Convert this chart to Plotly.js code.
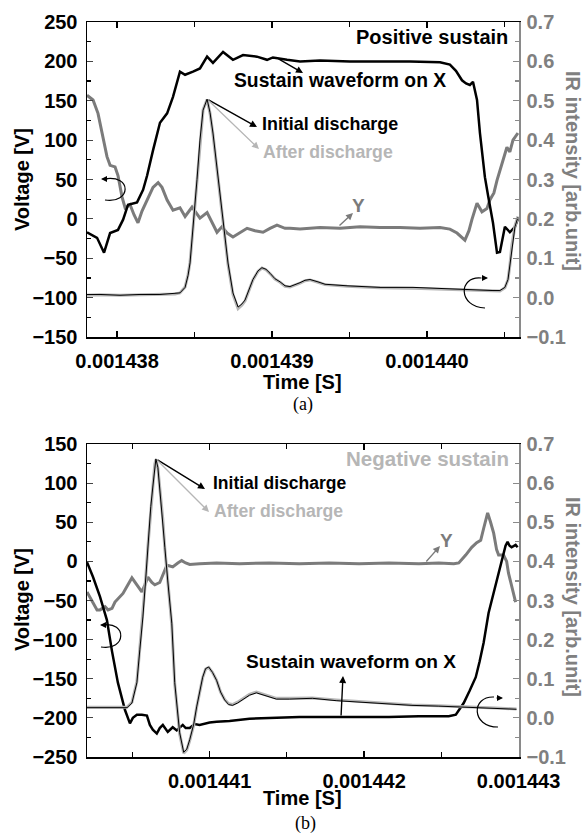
<!DOCTYPE html>
<html><head><meta charset="utf-8">
<script src="https://cdn.plot.ly/plotly-3.0.1.min.js"></script>
<style>html,body{margin:0;padding:0;background:#fff}#g{width:586px;height:835px}</style>
</head><body><div id="g"></div>
<script>
// ---------- Panel (a): positive sustain (time in microseconds) ----------
const a_x_t = [1437.806,1437.871,1437.916,1437.955,1438.006,1438.039,1438.071,1438.129,1438.168,1438.194,1438.232,1438.277,1438.323,1438.361,1438.406,1438.439,1438.490,1438.535,1438.581,1438.619,1438.684,1438.748,1438.813,1438.903,1438.968,1439.006,1439.097,1439.181,1439.310,1439.503,1439.697,1439.890,1440.084,1440.148,1440.187,1440.226,1440.252,1440.277,1440.297,1440.323,1440.342,1440.374,1440.394,1440.426,1440.452,1440.471,1440.503,1440.535,1440.568,1440.587];
const a_x_v = [-17,-24,-43,-18,-14,-1,18,21,37,55,87,122,134,155,187,183,187,191,206,198,212,202,208,206,202,205,202,200,201,200,200,200,199,196,188,176,172,170,174,151,109,53,30,-5,-43,-42,-10,-17,-10,0];

const a_y_t = [1437.806,1437.845,1437.877,1437.903,1437.935,1437.955,1437.987,1438.006,1438.019,1438.032,1438.052,1438.084,1438.110,1438.135,1438.161,1438.194,1438.232,1438.265,1438.290,1438.323,1438.361,1438.406,1438.439,1438.484,1438.510,1438.535,1438.581,1438.613,1438.645,1438.677,1438.710,1438.748,1438.794,1438.839,1438.890,1438.942,1438.987,1439.032,1439.084,1439.116,1439.181,1439.310,1439.439,1439.568,1439.697,1439.826,1439.955,1440.084,1440.148,1440.194,1440.245,1440.271,1440.290,1440.323,1440.355,1440.387,1440.406,1440.432,1440.452,1440.471,1440.497,1440.516,1440.535,1440.555,1440.587];
const a_y_v = [157,151,134,109,79,68,66,55,41,28,14,18,5,-5,10,24,40,46,40,24,11,14,3,15,8,1,8,-5,-17,-10,-18,-23,-17,-12,-15,-17,-12,-8,-12,-12,-13,-11,-12,-10,-11,-11,-12,-11,-13,-18,-27,-15,-1,20,9,13,24,33,49,62,80,91,85,100,109];

const a_ir_t = [1437.806,1437.890,1438.019,1438.148,1438.277,1438.374,1438.406,1438.439,1438.458,1438.471,1438.490,1438.516,1438.535,1438.555,1438.581,1438.600,1438.619,1438.652,1438.665,1438.684,1438.703,1438.716,1438.748,1438.781,1438.806,1438.826,1438.877,1438.910,1438.935,1438.961,1438.987,1439.019,1439.052,1439.084,1439.116,1439.148,1439.181,1439.213,1439.245,1439.297,1439.342,1439.484,1439.697,1439.910,1440.129,1440.277,1440.426,1440.471,1440.503,1440.523,1440.535,1440.548,1440.568,1440.587];
const a_init_ir = [0.008,0.008,0.006,0.008,0.008,0.010,0.012,0.026,0.056,0.088,0.172,0.300,0.400,0.476,0.504,0.470,0.418,0.306,0.260,0.198,0.130,0.088,0.012,-0.024,-0.016,-0.006,0.046,0.068,0.076,0.072,0.062,0.048,0.040,0.030,0.028,0.032,0.038,0.044,0.046,0.040,0.034,0.030,0.026,0.026,0.022,0.020,0.018,0.018,0.026,0.046,0.080,0.130,0.180,0.204];
const a_after_ir = [0.006,0.007,0.006,0.007,0.007,0.009,0.012,0.027,0.058,0.090,0.175,0.302,0.401,0.477,0.503,0.468,0.415,0.303,0.256,0.194,0.126,0.084,0.008,-0.028,-0.019,-0.008,0.045,0.067,0.075,0.071,0.061,0.047,0.039,0.029,0.027,0.031,0.037,0.043,0.045,0.039,0.033,0.029,0.025,0.024,0.021,0.019,0.017,0.017,0.025,0.046,0.082,0.133,0.182,0.206];

// ---------- Panel (b): negative sustain ----------
const b_x_t = [1440.206,1440.245,1440.290,1440.335,1440.368,1440.406,1440.452,1440.484,1440.503,1440.529,1440.561,1440.594,1440.613,1440.632,1440.658,1440.677,1440.697,1440.729,1440.761,1440.787,1440.826,1440.845,1440.871,1440.903,1440.935,1441.000,1441.045,1441.129,1441.258,1441.387,1441.581,1441.774,1441.968,1442.161,1442.355,1442.548,1442.594,1442.645,1442.684,1442.723,1442.748,1442.774,1442.806,1442.826,1442.858,1442.890,1442.916,1442.929,1442.942,1442.955,1442.981,1442.994];
const b_x_v = [-1,-20,-45,-75,-115,-155,-190,-207,-200,-196,-196,-197,-209,-215,-220,-213,-209,-218,-212,-216,-209,-213,-213,-208,-209,-206,-205,-204,-201,-200,-199,-199,-199,-199,-198,-198,-196,-181,-165,-148,-128,-104,-66,-50,-24,0,20,25,20,18,21,18];

const b_y_t = [1440.206,1440.245,1440.271,1440.290,1440.323,1440.342,1440.368,1440.387,1440.419,1440.439,1440.471,1440.497,1440.529,1440.548,1440.561,1440.581,1440.600,1440.626,1440.645,1440.677,1440.703,1440.723,1440.742,1440.761,1440.794,1440.819,1440.845,1440.871,1440.935,1441.045,1441.194,1441.387,1441.581,1441.774,1441.968,1442.161,1442.355,1442.484,1442.581,1442.613,1442.658,1442.697,1442.729,1442.755,1442.774,1442.800,1442.819,1442.839,1442.858,1442.871,1442.903,1442.923,1442.935,1442.955,1442.981];
const b_y_v = [-39,-53,-62,-62,-58,-62,-60,-52,-45,-41,-30,-21,-30,-36,-39,-30,-20,-27,-30,-27,-15,-5,-6,-7,-2,1,-2,-4,-3,-2,-3,-2,-3,-2,-3,-2,-3,-2,-3,-2,8,18,24,27,42,62,50,36,15,8,8,0,-15,-33,-52];

const b_ir_t = [1440.206,1440.355,1440.465,1440.497,1440.529,1440.548,1440.568,1440.587,1440.600,1440.619,1440.632,1440.645,1440.652,1440.665,1440.677,1440.697,1440.710,1440.729,1440.742,1440.755,1440.774,1440.794,1440.806,1440.832,1440.852,1440.871,1440.897,1440.916,1440.935,1440.955,1440.974,1440.994,1441.019,1441.045,1441.071,1441.097,1441.123,1441.148,1441.181,1441.213,1441.258,1441.303,1441.335,1441.368,1441.432,1441.516,1441.665,1441.819,1441.968,1442.097,1442.310,1442.484,1442.632,1442.852,1442.987];
const b_init_ir = [0.026,0.026,0.026,0.038,0.090,0.174,0.258,0.360,0.436,0.540,0.590,0.650,0.662,0.640,0.590,0.510,0.436,0.350,0.284,0.242,0.090,0.000,-0.038,-0.088,-0.080,-0.056,-0.016,0.028,0.070,0.104,0.126,0.130,0.116,0.096,0.066,0.046,0.034,0.032,0.038,0.046,0.058,0.064,0.060,0.056,0.048,0.048,0.050,0.044,0.040,0.038,0.032,0.030,0.028,0.024,0.022];
const b_after_ir = [0.027,0.027,0.027,0.040,0.093,0.178,0.262,0.362,0.437,0.539,0.589,0.648,0.660,0.638,0.588,0.507,0.432,0.346,0.280,0.238,0.087,-0.003,-0.041,-0.090,-0.082,-0.058,-0.018,0.027,0.069,0.103,0.125,0.129,0.116,0.096,0.066,0.047,0.036,0.034,0.040,0.048,0.060,0.066,0.062,0.058,0.050,0.050,0.051,0.046,0.042,0.039,0.033,0.031,0.028,0.025,0.023];

const xTicksA = [1438, 1439, 1440];
const xTicksB = [1441, 1442, 1443];

const us = a => a.map(v => v * 1e-6);
const fmt = a => a.map(v => (v * 1e-6).toFixed(6));

const BLACK = '#000000', GRAY = '#7b7b7b', LIGHT = '#b6b6b6';
const FF = 'Liberation Sans, Arial, sans-serif';

const traces = [
  {x: us(a_ir_t), y: a_after_ir, xaxis:'x', yaxis:'y2', mode:'lines', line:{color:LIGHT, width:3}},
  {x: us(a_ir_t), y: a_init_ir, xaxis:'x', yaxis:'y2', mode:'lines', line:{color:BLACK, width:1}},
  {x: us(a_y_t), y: a_y_v, xaxis:'x', yaxis:'y', mode:'lines', line:{color:GRAY, width:3}},
  {x: us(a_x_t), y: a_x_v, xaxis:'x', yaxis:'y', mode:'lines', line:{color:BLACK, width:2.5}},
  {x: us(b_ir_t), y: b_after_ir, xaxis:'x2', yaxis:'y4', mode:'lines', line:{color:LIGHT, width:3}},
  {x: us(b_ir_t), y: b_init_ir, xaxis:'x2', yaxis:'y4', mode:'lines', line:{color:BLACK, width:1}},
  {x: us(b_y_t), y: b_y_v, xaxis:'x2', yaxis:'y3', mode:'lines', line:{color:GRAY, width:3}},
  {x: us(b_x_t), y: b_x_v, xaxis:'x2', yaxis:'y3', mode:'lines', line:{color:BLACK, width:2.5}}
];

// pixel -> paper helper (plot area: x 87..519, y 22..757)
const PX = px => (px - 87) / 432;
const PY = py => (757 - py) / 735;

const tickFontK = {family:FF, size:20, color:BLACK, weight:'bold'};
const tickFontG = {family:FF, size:20, color:'#808080', weight:'bold'};

function xAxis(anchor, ticks, range) {
  return {anchor, domain:[0,1], range: us(range), tickmode:'array', tickvals: us(ticks), ticktext: fmt(ticks),
    showline:true, linecolor:BLACK, linewidth:1.5, mirror:'ticks', ticks:'inside', ticklen:6, tickwidth:1.2, tickcolor:BLACK,
    minor:{dtick:5e-7, ticks:'inside', ticklen:5, tickwidth:1.2, tickcolor:BLACK},
    showgrid:false, zeroline:false, tickfont:tickFontK, ticklabelstandoff:5};
}
function yLeft(domain, range, dtick) {
  return {domain, range, dtick, tick0:0, showline:true, linecolor:BLACK, linewidth:1.5, ticks:'inside', ticklen:6, tickwidth:1.2,
    minor:{dtick:dtick/2, ticks:'inside', ticklen:4, tickwidth:1.2, tickcolor:BLACK},
    showgrid:false, zeroline:false, tickfont:tickFontK, ticklabelstandoff:4};
}
function yRight(overlay, anchor) {
  return {overlaying:overlay, anchor, side:'right', range:[-0.1,0.7], dtick:0.1, tick0:0, tickformat:'.1f',
    showline:true, linecolor:'#8a8a8a', linewidth:1.5, ticks:'inside', ticklen:6, tickwidth:1.2, tickcolor:'#8a8a8a',
    minor:{dtick:0.05, ticks:'inside', ticklen:4, tickwidth:1.2, tickcolor:'#8a8a8a'},
    showgrid:false, zeroline:false, tickfont:tickFontG, ticklabelstandoff:2};
}

function txt(text, px, py, size, color, xanchor, extra) {
  return Object.assign({xref:'paper', yref:'paper', x:PX(px), y:PY(py), text, showarrow:false,
    xanchor: xanchor || 'center', yanchor:'middle', font:{family:FF, size, color, weight:'bold'}}, extra || {});
}
function arrow(tx, ty, hx, hy, color, w) {
  return {xref:'paper', yref:'paper', x:PX(hx), y:PY(hy), ax:tx-hx, ay:ty-hy, text:'', showarrow:true,
    arrowhead:2, arrowsize:1, arrowwidth:w || 1.4, arrowcolor:color, standoff:0, startstandoff:0};
}
function arc(pts) {
  const s = pts.map(p => PX(p[0]).toFixed(5) + ',' + PY(p[1]).toFixed(5));
  return {type:'path', xref:'paper', yref:'paper', path:'M' + s[0] + ' C' + s[1] + ' ' + s[2] + ' ' + s[3],
    line:{color:BLACK, width:1.2}};
}

const annotations = [
  // titles
  txt('Voltage [V]', 22, 180, 20, BLACK, 'center', {textangle:-90}),
  txt('Voltage [V]', 22, 600, 20, BLACK, 'center', {textangle:-90}),
  txt('IR intensity [arb.unit]', 573, 171, 20, '#808080', 'center', {textangle:90}),
  txt('IR intensity [arb.unit]', 573, 597, 20, '#808080', 'center', {textangle:90}),
  txt('Time [S]', 302, 382, 20, BLACK),
  txt('Time [S]', 302, 798, 20, BLACK),
  {xref:'paper', yref:'paper', x:PX(303), y:PY(405), text:'(a)', showarrow:false, xanchor:'center', yanchor:'middle',
    font:{family:'Liberation Serif, Times New Roman, serif', size:18, color:BLACK}},
  {xref:'paper', yref:'paper', x:PX(305), y:PY(823), text:'(b)', showarrow:false, xanchor:'center', yanchor:'middle',
    font:{family:'Liberation Serif, Times New Roman, serif', size:18, color:BLACK}},
  // panel (a) labels
  txt('Positive sustain', 510, 37, 20, BLACK, 'right'),
  txt('Sustain waveform on X', 232, 80, 19.3, BLACK, 'left'),
  txt('Initial discharge', 260, 124, 17.9, BLACK, 'left'),
  txt('After discharge', 261, 152, 17.7, LIGHT, 'left'),
  txt('Y', 358, 205, 19, GRAY),
  arrow(277, 58, 303, 73, BLACK),
  arrow(207, 99, 257, 127, BLACK),
  arrow(207, 99, 259, 149, LIGHT),
  arrow(338, 227, 353, 213, GRAY),
  arrow(109, 179, 101, 179, BLACK, 1.2),
  arrow(480, 278, 488, 278, BLACK, 1.2),
  // panel (b) labels
  txt('Negative sustain', 511, 458, 20.5, LIGHT, 'right'),
  txt('Initial discharge', 211, 483, 17.5, BLACK, 'left'),
  txt('After discharge', 212, 511, 17.6, LIGHT, 'left'),
  txt('Y', 446, 540, 19, GRAY),
  txt('Sustain waveform on X', 244, 661, 19.1, BLACK, 'left'),
  arrow(156, 459, 205, 489, BLACK),
  arrow(156, 459, 209, 512, LIGHT),
  arrow(425, 563, 440, 546, GRAY),
  arrow(341, 717, 343, 676, BLACK),
  arrow(108, 625, 100, 625, BLACK, 1.2),
  arrow(495, 698, 503, 698, BLACK, 1.2)
];

const shapes = [
  arc([[104,179],[133,174],[131,204],[105,200]]),
  arc([[481,278],[458,276],[458,307],[485,308]]),
  arc([[103,625],[127,621],[127,651],[101,647]]),
  arc([[494,697],[471,696],[471,727],[498,727]])
];

const layout = {
  width:586, height:835, margin:{l:87, r:67, t:22, b:78},
  paper_bgcolor:'#fff', plot_bgcolor:'rgba(0,0,0,0)', showlegend:false, hovermode:false,
  xaxis: xAxis('y', xTicksA, [1437.806, 1440.594]),
  yaxis: yLeft([420/735, 1], [-150, 250], 50),
  yaxis2: yRight('y', 'x'),
  xaxis2: xAxis('y3', xTicksB, [1440.206, 1443.003]),
  yaxis3: yLeft([0, 313/735], [-250, 150], 50),
  yaxis4: yRight('y3', 'x2'),
  annotations, shapes
};

Plotly.newPlot('g', traces, layout, {staticPlot:true, displayModeBar:false});
</script></body></html>
